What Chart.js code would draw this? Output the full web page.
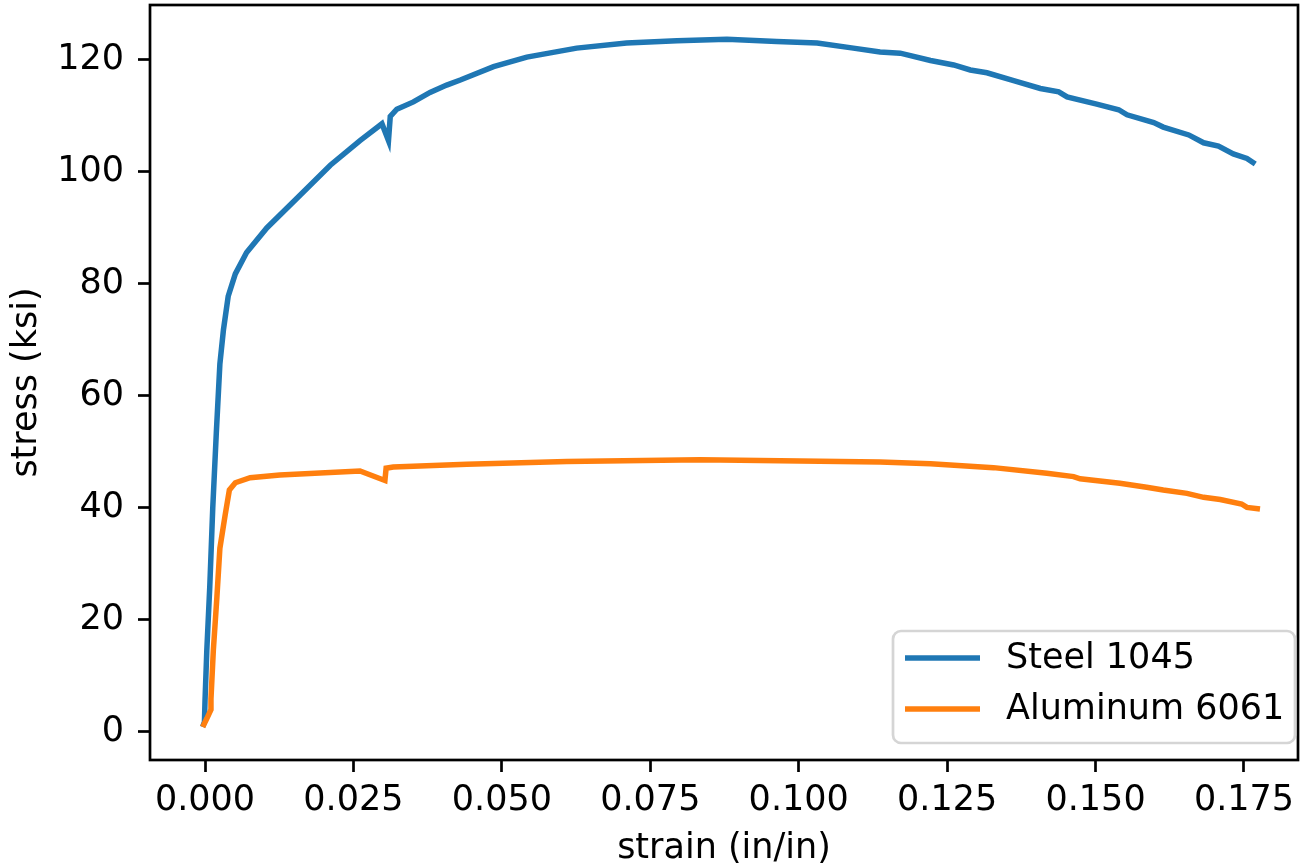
<!DOCTYPE html>
<html>
<head>
<meta charset="utf-8">
<script src="https://cdn.jsdelivr.net/npm/chart.js@4"></script>
<style>
    html, body { margin: 0; padding: 0; background: #fff; }
    #stressStrainChart { display: block; }
</style>
</head>
<body>
<canvas id="stressStrainChart" width="1301" height="866"></canvas>
<script>
// values
const steelStrain = [-0.0004, -0.0001, 0.0000, 0.0003, 0.0008, 0.0013, 0.0019, 0.0025, 0.0031, 0.0039,
    0.0051, 0.0070, 0.0104, 0.0154, 0.0211, 0.0261, 0.0298, 0.0309, 0.0312, 0.0323,
    0.0351, 0.0379, 0.0407, 0.0430, 0.0486, 0.0542, 0.0626, 0.0710, 0.0795, 0.0879,
    0.0963, 0.1031, 0.1092, 0.1137, 0.1171, 0.1222, 0.1261, 0.1289, 0.1317, 0.1362,
    0.1407, 0.1438, 0.1452, 0.1502, 0.1539, 0.1553, 0.1598, 0.1614, 0.1657, 0.1682,
    0.1707, 0.1732, 0.1755, 0.1769];
const steelStress = [0.9, 1.8, 5.7, 14.6, 26.0, 40.0, 53.4, 65.7, 71.8, 77.8,
    81.8, 85.6, 90.0, 95.2, 101.2, 105.6, 108.6, 105.6, 109.9, 111.2,
    112.5, 114.2, 115.5, 116.4, 118.8, 120.5, 122.1, 123.0, 123.4, 123.7,
    123.3, 123.0, 122.1, 121.4, 121.2, 119.9, 119.1, 118.2, 117.7, 116.3,
    114.9, 114.3, 113.4, 112.1, 111.1, 110.2, 108.8, 108.0, 106.6, 105.2,
    104.6, 103.2, 102.4, 101.4];

const aluminumStrain = [-0.0004, 0.0003, 0.0010, 0.0010, 0.0014, 0.0020, 0.0025, 0.0034, 0.0041, 0.0051,
    0.0076, 0.0126, 0.0261, 0.0303, 0.0305, 0.0317, 0.0441, 0.0609, 0.0834, 0.1002,
    0.1137, 0.1222, 0.1328, 0.1418, 0.1463, 0.1474, 0.1541, 0.1586, 0.1614, 0.1654,
    0.1682, 0.1710, 0.1746, 0.1755, 0.1777];
const aluminumStress = [0.9, 2.4, 4.0, 5.9, 14.6, 24.1, 32.8, 38.8, 43.2, 44.5,
    45.4, 45.9, 46.6, 44.9, 47.1, 47.3, 47.8, 48.3, 48.6, 48.4,
    48.2, 47.9, 47.2, 46.2, 45.6, 45.2, 44.4, 43.7, 43.2, 42.6,
    41.9, 41.5, 40.7, 40.1, 39.8];

const seriesLabels = ['Steel 1045', 'Aluminum 6061'];
const seriesColors = ['#1f77b4', '#ff7f0e'];

const xTickValues = [0, 0.025, 0.05, 0.075, 0.1, 0.125, 0.15, 0.175];
const yTickValues = [0, 20, 40, 60, 80, 100, 120];

const FONT = 'DejaVu Sans';
const FONT_SIZE = 35;
const LINE_WIDTH = 5.5;

function toPoints(xs, ys) {
    return xs.map((x, i) => ({ x: x, y: ys[i] }));
}

// full box around the plot area plus a matplotlib style legend in the lower right
const framePlugin = {
    id: 'frameAndLegend',
    afterDraw(chart) {
        const ctx = chart.ctx;
        const area = chart.chartArea;
        ctx.save();
        ctx.strokeStyle = '#000';
        ctx.lineWidth = 2.7;
        ctx.strokeRect(area.left, area.top, area.right - area.left, area.bottom - area.top);

        const box = { left: 893, top: 631, right: 1295, bottom: 743 };
        ctx.beginPath();
        ctx.roundRect(box.left, box.top, box.right - box.left, box.bottom - box.top, 8);
        ctx.fillStyle = 'rgba(255, 255, 255, 0.8)';
        ctx.fill();
        ctx.strokeStyle = '#d5d5d5';
        ctx.lineWidth = 2.7;
        ctx.stroke();

        ctx.font = `${FONT_SIZE}px "${FONT}"`;
        ctx.textBaseline = 'middle';
        ctx.textAlign = 'left';
        const rowY = [658, 709];
        chart.data.datasets.forEach((ds, i) => {
            ctx.strokeStyle = ds.borderColor;
            ctx.lineWidth = LINE_WIDTH;
            ctx.beginPath();
            ctx.moveTo(905, rowY[i]);
            ctx.lineTo(980, rowY[i]);
            ctx.stroke();
            ctx.fillStyle = '#000';
            ctx.fillText(ds.label, 1006, rowY[i] + 1);
        });
        ctx.restore();
    }
};

const ctx = document.getElementById('stressStrainChart').getContext('2d');
const chart = new Chart(ctx, {
    type: 'line',
    data: {
        datasets: [
            {
                label: seriesLabels[0],
                data: toPoints(steelStrain, steelStress),
                borderColor: seriesColors[0],
                backgroundColor: seriesColors[0],
                borderWidth: LINE_WIDTH,
                pointRadius: 0,
                tension: 0,
                fill: false,
                order: 1
            },
            {
                label: seriesLabels[1],
                data: toPoints(aluminumStrain, aluminumStress),
                borderColor: seriesColors[1],
                backgroundColor: seriesColors[1],
                borderWidth: LINE_WIDTH,
                pointRadius: 0,
                tension: 0,
                fill: false,
                order: 0
            }
        ]
    },
    options: {
        responsive: false,
        animation: false,
        devicePixelRatio: 1,
        layout: { padding: { top: 5, right: 3, left: 0, bottom: 0 } },
        plugins: {
            legend: { display: false },
            tooltip: { enabled: false }
        },
        scales: {
            x: {
                type: 'linear',
                min: -0.00927,
                max: 0.1841,
                afterBuildTicks: scale => { scale.ticks = xTickValues.map(v => ({ value: v })); },
                afterFit: scale => {
                    scale.height = 106;
                    scale.paddingLeft = 0;
                    scale.paddingRight = 0;
                },
                border: { display: false },
                grid: {
                    drawOnChartArea: false,
                    drawTicks: true,
                    tickLength: 12,
                    tickWidth: 2.7,
                    tickColor: '#000'
                },
                ticks: {
                    color: '#000',
                    font: { family: FONT, size: FONT_SIZE },
                    padding: 8,
                    maxRotation: 0,
                    autoSkip: false,
                    callback: v => v.toFixed(3)
                },
                title: {
                    display: true,
                    text: 'strain (in/in)',
                    color: '#000',
                    font: { family: FONT, size: FONT_SIZE, lineHeight: 1 },
                    padding: { top: 0, bottom: 0 }
                }
            },
            y: {
                type: 'linear',
                min: -5.0,
                max: 129.8,
                afterBuildTicks: scale => { scale.ticks = yTickValues.map(v => ({ value: v })); },
                afterFit: scale => {
                    scale.width = 150;
                    scale.paddingTop = 0;
                    scale.paddingBottom = 0;
                },
                border: { display: false },
                grid: {
                    drawOnChartArea: false,
                    drawTicks: true,
                    tickLength: 12,
                    tickWidth: 2.7,
                    tickColor: '#000'
                },
                ticks: {
                    color: '#000',
                    font: { family: FONT, size: FONT_SIZE },
                    padding: 14,
                    autoSkip: false,
                    callback: v => String(v)
                },
                title: {
                    display: true,
                    text: 'stress (ksi)',
                    color: '#000',
                    font: { family: FONT, size: FONT_SIZE },
                    padding: { top: 6, bottom: 0 }
                }
            }
        }
    },
    plugins: [framePlugin]
});
</script>
</body>
</html>
